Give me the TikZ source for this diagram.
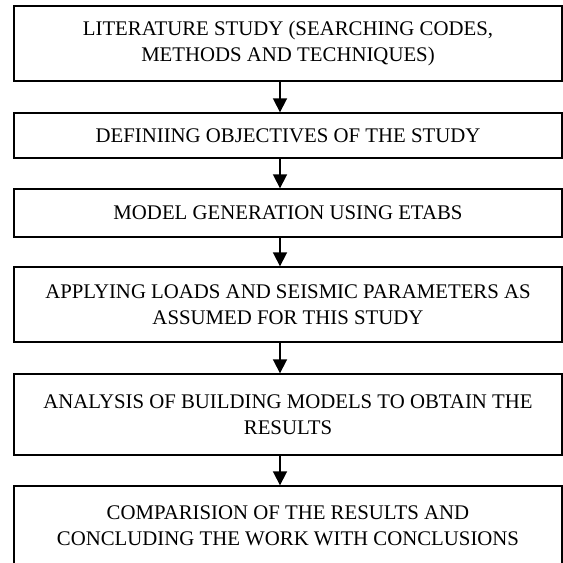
\documentclass[tikz,border=0pt]{standalone}
\usepackage{fontspec}
\setmainfont{Liberation Serif}
\usepackage{tikz}
\usetikzlibrary{arrows.meta,positioning}

\begin{document}
\begin{tikzpicture}[x=1pt, y=-1pt,
    stagebox/.style={draw, line width=1.4pt, rectangle, minimum width=548pt,
        align=center, inner sep=0pt,
        font=\fontsize{20.8}{26}\selectfont},
    flowarrow/.style={-{Triangle[length=14pt, width=14pt]}, line width=1.8pt}]
    % Page
    \useasboundingbox (0,0) rectangle (563,563);

    % Stages
    \node[stagebox, minimum height=75pt] (lit) at (288,43.5)
        {LITERATURE STUDY (SEARCHING CODES,\\METHODS AND TECHNIQUES)};
    \node[stagebox, minimum height=45pt] (obj) at (288,135.5)
        {DEFINIING OBJECTIVES OF THE STUDY};
    \node[stagebox, minimum height=48pt] (model) at (288,213)
        {MODEL GENERATION USING ETABS};
    \node[stagebox, minimum height=75pt] (loads) at (288,304.5)
        {APPLYING LOADS AND SEISMIC PARAMETERS AS\\ASSUMED FOR THIS STUDY};
    \node[stagebox, minimum height=81pt] (analysis) at (288,414.5)
        {ANALYSIS OF BUILDING MODELS TO OBTAIN THE\\RESULTS};
    \node[stagebox, minimum height=80pt] (compare) at (288,526)
        {COMPARISION OF THE RESULTS AND\\CONCLUDING THE WORK WITH CONCLUSIONS};

    % Arrows
    \draw[flowarrow] ([xshift=-8pt]lit.south) -- ([xshift=-8pt]obj.north);
    \draw[flowarrow] ([xshift=-8pt]obj.south) -- ([xshift=-8pt]model.north);
    \draw[flowarrow] ([xshift=-8pt]model.south) -- ([xshift=-8pt]loads.north);
    \draw[flowarrow] ([xshift=-8pt]loads.south) -- ([xshift=-8pt]analysis.north);
    \draw[flowarrow] ([xshift=-8pt]analysis.south) -- ([xshift=-8pt]compare.north);
\end{tikzpicture}
\end{document}
